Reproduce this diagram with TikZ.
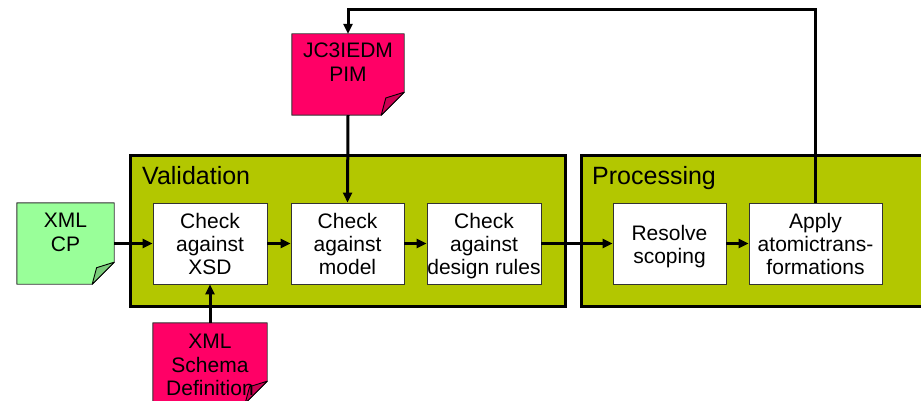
\documentclass[tikz,border=0pt]{standalone}
\usepackage{fontspec}
\setmainfont{Liberation Sans}
\usetikzlibrary{arrows.meta,calc}

\definecolor{stagegreen}{RGB}{179,199,0}
\definecolor{notepink}{RGB}{255,0,102}
\definecolor{notepinkfold}{RGB}{204,0,82}
\definecolor{notegreen}{RGB}{153,255,153}
\definecolor{notegreenfold}{RGB}{122,204,122}

% Sticky note with a curled bottom-right corner, drawn around node #1
% #2 paper colour, #3 fold colour, #4 size of the turned corner
\newcommand\drawnote[4]{%
  \filldraw[fill=#2, draw=black!80, line width=0.9pt, line join=round]
    (#1.north west) -- (#1.north east) -- ($(#1.south east)+(0,-#4)$)
    -- ($(#1.south east)+(-#4,0)$) -- (#1.south west) -- cycle;
  \filldraw[fill=#3, draw=black, line width=0.9pt, line join=round]
    ($(#1.south east)+(0,-#4)$) .. controls ($(#1.south east)+(-0.4*#4,-0.85*#4)$) ..
    ($(#1.south east)+(-0.8*#4,-0.75*#4)$)
    -- ($(#1.south east)+(-#4,0)$) -- cycle;
}
% fixed first-line height and last-line depth, so every step label sits alike
\newcommand\firstheight{\rule{0pt}{21pt}}
\newcommand\lastdepth{\vphantom{g}}

\begin{document}
\begin{tikzpicture}[x=1pt, y=-1pt,
  stage/.style={draw=black, fill=stagegreen, line width=3pt, minimum height=151pt, inner sep=0pt},
  stagetitle/.style={anchor=base west, inner sep=0pt, font=\fontsize{25}{30}\selectfont},
  stepbox/.style={draw=black!80, fill=white, line width=0.9pt, minimum height=81pt,
    inner sep=0pt, align=center, font=\fontsize{21}{23}\selectfont},
  noteshape/.style={inner sep=0pt, minimum height=81pt},
  notetext/.style={anchor=north, inner sep=0pt, align=center, font=\fontsize{21}{23.5}\selectfont},
  flow/.style={line width=3pt, -{Triangle[length=10pt, width=9pt]}},
]
\useasboundingbox (0,0) rectangle (921,401);

% Stage containers
\node[stage, minimum width=435pt] (valid) at (347.5,231) {};
\node[stage, minimum width=342pt] (proc) at (752,231) {};
\node[stagetitle] (validtitle) at (142,184) {Validation};
\node[stagetitle] (proctitle) at (592,184) {Processing};

% Processing steps
\node[stepbox, minimum width=114pt] (xsd) at (210,243.5) {\firstheight Check\\against\\XSD\lastdepth};
\node[stepbox, minimum width=113pt] (model) at (347.5,243.5) {\firstheight Check\\against\\model\lastdepth};
\node[stepbox, minimum width=114pt] (rules) at (484,243.5) {\firstheight Check\\against\\design rules\lastdepth};
\node[stepbox, minimum width=113pt] (scope) at (669.5,243.5) {\firstheight Resolve\\scoping\lastdepth};
\node[stepbox, minimum width=133pt] (apply) at (815.5,243.5) {\firstheight Apply\\atomictrans-\\formations\lastdepth};

% Input documents
\node[noteshape, minimum width=112pt] (pim) at (348,74.5) {};
\drawnote{pim}{notepink}{notepinkfold}{23}
\node[notetext] (pimtext) at (348,43) {JC3IEDM\\PIM};

\node[noteshape, minimum width=97pt] (cp) at (65.5,243.5) {};
\drawnote{cp}{notegreen}{notegreenfold}{22}
\node[notetext] (cptext) at (65.5,213) {XML\\CP};

\node[noteshape, minimum width=114pt, minimum height=80pt] (xsdef) at (210,363) {};
\drawnote{xsdef}{notepink}{notepinkfold}{22}
\node[notetext] (xsdeftext) at (210,334) {XML\\Schema\\Definition};

% Flow
\coordinate (top) at (0,10);
\draw[flow] (cp.east) -- (xsd.west);
\draw[flow] (xsd.east) -- (model.west);
\draw[flow] (model.east) -- (rules.west);
\draw[flow] (rules.east) -- (scope.west);
\draw[flow] (scope.east) -- (apply.west);
\draw[flow] (xsdef.north) -- (xsd.south);
\draw[flow] (pim.south) -- (model.north);
\draw[flow, line join=miter] (apply.north) -- (apply.north |- top) -| (pim.north);
\end{tikzpicture}
\end{document}
